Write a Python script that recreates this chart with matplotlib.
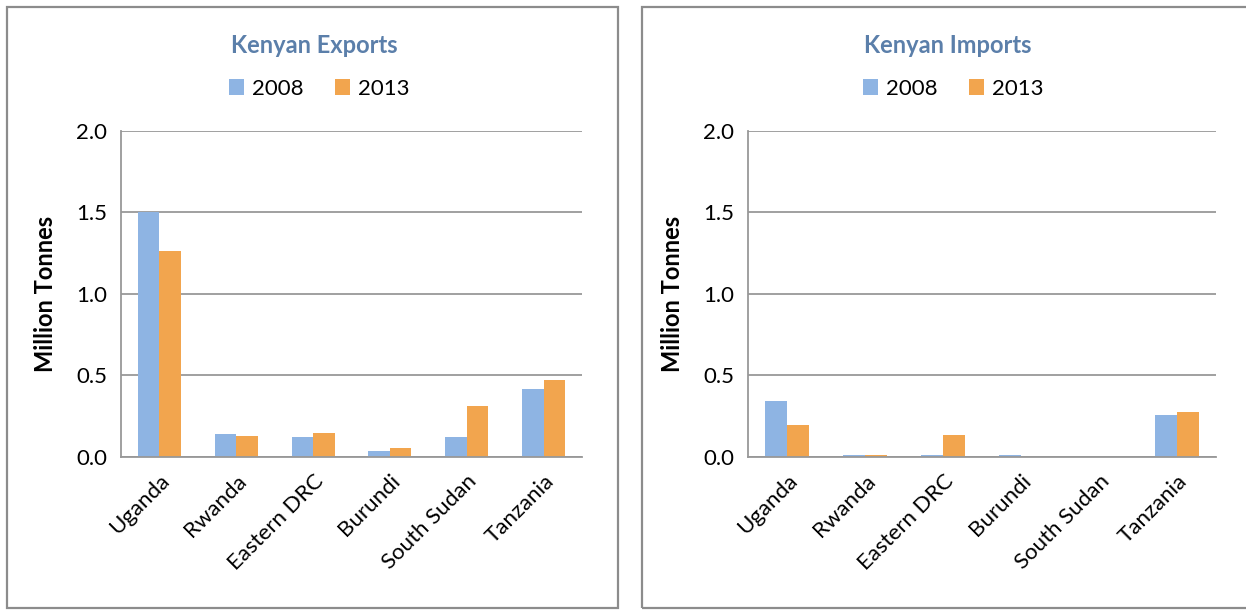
"""Kenyan exports and imports by partner, 2008 vs 2013 (million tonnes)."""
import matplotlib.pyplot as plt
import numpy as np
from matplotlib.patches import Rectangle

COUNTRIES = ["Uganda", "Rwanda", "Eastern DRC", "Burundi", "South Sudan", "Tanzania"]
YEARS = ["2008", "2013"]

EXPORTS_2008 = [1.50, 0.14, 0.12, 0.04, 0.12, 0.42]
EXPORTS_2013 = [1.26, 0.13, 0.15, 0.055, 0.31, 0.47]
IMPORTS_2008 = [0.345, 0.012, 0.012, 0.012, 0.0, 0.26]
IMPORTS_2013 = [0.195, 0.012, 0.135, 0.0, 0.0, 0.275]

BLUE = "#8EB4E3"
ORANGE = "#F2A54E"
TITLE_COLOR = "#5B7FAA"
GRID = "#989898"

plt.rcParams["font.family"] = ["Lato", "DejaVu Sans"]

fig = plt.figure(figsize=(12.46, 6.11), dpi=100)


def panel(left, ax_left, ax_width, title, v08, v13):
    # grey frame around each chart
    fig.patches.append(Rectangle((left, 0.005), 0.49, 0.983, transform=fig.transFigure,
                                 fill=False, edgecolor="#8c8c8c", linewidth=1.6))
    ax = fig.add_axes([ax_left, 0.252, ax_width, 0.534])
    x = np.arange(len(COUNTRIES))
    w = 0.28
    ax.bar(x - w / 2, v08, w, color=BLUE, label=YEARS[0], zorder=1)
    ax.bar(x + w / 2, v13, w, color=ORANGE, label=YEARS[1], zorder=1)
    ax.set_ylim(0, 2.0)
    ax.set_xlim(-0.5, len(COUNTRIES) - 0.5)
    ax.set_yticks([0, 0.5, 1.0, 1.5, 2.0])
    ax.set_yticklabels(["0.0", "0.5", "1.0", "1.5", "2.0"], fontsize=16)
    ax.set_xticks(x)
    ax.set_xticklabels(COUNTRIES, rotation=45, ha="right", rotation_mode="anchor", fontsize=16)
    ax.tick_params(length=0, pad=10)
    ax.yaxis.grid(True, color=GRID, linewidth=1.3)
    ax.set_axisbelow(True)
    for s in ["top", "right"]:
        ax.spines[s].set_visible(False)
    for s in ["left", "bottom"]:
        ax.spines[s].set_color(GRID)
        ax.spines[s].set_linewidth(1.3)
    ax.set_ylabel("Million Tonnes", fontsize=17, fontweight="bold", labelpad=14)
    # title and legend are centred on the frame, not the plotting area
    cx = left + 0.49 / 2 + 0.001
    fig.text(cx, 0.926, title, ha="center", va="center", fontsize=17,
             fontweight="bold", color=TITLE_COLOR)
    ax.legend(loc="center", bbox_to_anchor=(cx + 0.004, 0.855), bbox_transform=fig.transFigure,
              ncol=2, frameon=False, fontsize=16, handlelength=0.7, handleheight=0.7,
              handletextpad=0.35, columnspacing=1.4)
    return ax


panel(0.006, 0.0971, 0.370, "Kenyan Exports", EXPORTS_2008, EXPORTS_2013)
panel(0.515, 0.6003, 0.3756, "Kenyan Imports", IMPORTS_2008, IMPORTS_2013)

fig.savefig("out.png", dpi=100)
